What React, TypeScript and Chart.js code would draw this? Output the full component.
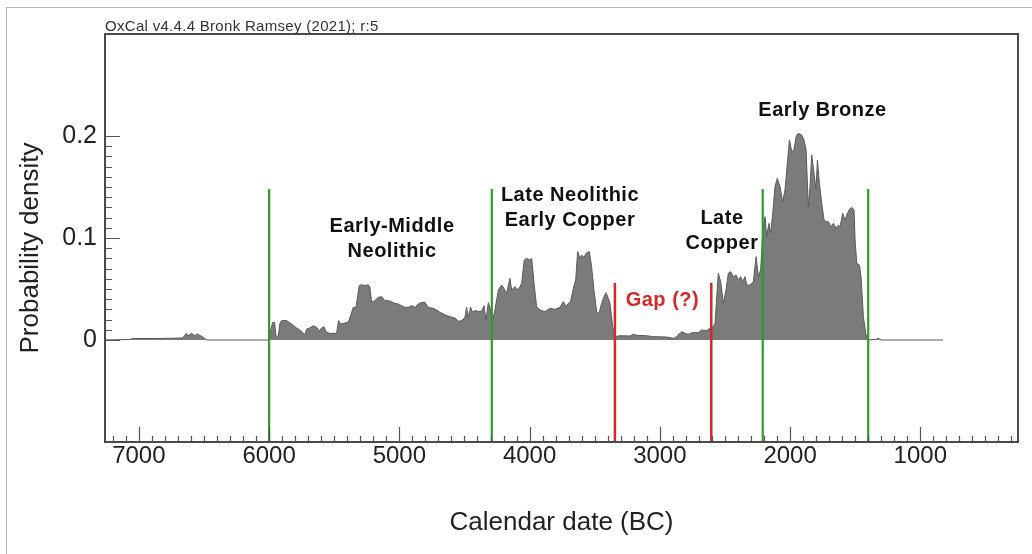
import React, { useEffect, useRef } from 'react';
import { Chart, registerables } from 'chart.js';

Chart.register(...registerables);

const FONT = '"Liberation Sans", Arial, Helvetica, sans-serif';

// Summed probability density (calendar years BC)
const years = [
  7260, 7070, 7046, 6840, 6662, 6647, 6634, 6624, 6595, 6570, 6555, 6516, 6478,
  6002, 5994, 5973, 5958, 5948, 5930, 5917, 5904, 5866, 5828, 5789, 5751, 5725,
  5712, 5687, 5661, 5635, 5615, 5597, 5579, 5559, 5533, 5482, 5467, 5451, 5431,
  5392, 5374, 5354, 5333, 5308, 5290, 5264, 5239, 5226, 5213, 5188, 5162, 5136,
  5111, 5085, 5060, 5034, 5008, 4983, 4957, 4932, 4906, 4880, 4855, 4829, 4804,
  4778, 4752, 4727, 4688, 4650, 4612, 4573, 4548, 4522, 4496, 4484, 4471, 4453,
  4437, 4420, 4394, 4368, 4350, 4335, 4317, 4299, 4284, 4266, 4240, 4215, 4197,
  4176, 4151, 4138, 4112, 4087, 4061, 4041, 4023, 4002, 3984, 3966, 3946, 3920,
  3882, 3844, 3805, 3767, 3741, 3721, 3703, 3685, 3664, 3646, 3631, 3613, 3600,
  3582, 3562, 3541, 3524, 3506, 3485, 3467, 3447, 3429, 3413, 3395, 3383, 3362,
  3344, 3306, 3229, 3204, 3178, 3101, 3050, 2947, 2896, 2871, 2845, 2832, 2807,
  2781, 2743, 2704, 2679, 2640, 2615, 2602, 2576, 2551, 2533, 2512, 2492, 2474,
  2456, 2436, 2415, 2397, 2379, 2364, 2346, 2333, 2308, 2282, 2261, 2243, 2226,
  2210, 2192, 2180, 2162, 2149, 2133, 2116, 2098, 2077, 2057, 2039, 2021, 2005,
  1987, 1970, 1954, 1936, 1911, 1893, 1877, 1860, 1847, 1834, 1816, 1801, 1790,
  1775, 1757, 1739, 1724, 1706, 1685, 1667, 1647, 1629, 1616, 1596, 1578, 1565,
  1547, 1527, 1509, 1501, 1488, 1468, 1455, 1437, 1419, 1404, 1335, 1322, 1309,
  1290, 825,
];

const density = [
  0, 0.0005, 0.0015, 0.0015, 0.002, 0.005, 0.0065, 0.004, 0.0065, 0.004, 0.006, 0.0035, 0,
  0, 0.006, 0.0173, 0.0173, 0.0042, 0.0033, 0.0163, 0.019, 0.019, 0.0157, 0.0118, 0.0085, 0.0052,
  0.0108, 0.0118, 0.014, 0.0124, 0.0085, 0.0118, 0.013, 0.0075, 0.0065, 0.0065, 0.019, 0.0157, 0.0163,
  0.0173, 0.0239, 0.032, 0.032, 0.0533, 0.0542, 0.0533, 0.0542, 0.0516, 0.0369, 0.0386, 0.0418, 0.0425,
  0.0386, 0.0386, 0.0376, 0.0359, 0.0353, 0.0337, 0.032, 0.032, 0.0337, 0.032, 0.0353, 0.0369, 0.0369,
  0.032, 0.0314, 0.0304, 0.0271, 0.0248, 0.0229, 0.0216, 0.0183, 0.019, 0.0222, 0.032, 0.0222, 0.032,
  0.0271, 0.0288, 0.0281, 0.0281, 0.0337, 0.019, 0.0366, 0.0294, 0.0196, 0.0294, 0.049, 0.0539, 0.0507,
  0.0458, 0.0605, 0.049, 0.0523, 0.049, 0.0556, 0.0784, 0.0801, 0.0784, 0.0801, 0.0556, 0.0327, 0.0294,
  0.0278, 0.031, 0.0301, 0.032, 0.0376, 0.0327, 0.0359, 0.0376, 0.0507, 0.0588, 0.0866, 0.0801, 0.0833,
  0.081, 0.0856, 0.0866, 0.0719, 0.049, 0.0278, 0.0261, 0.0359, 0.0425, 0.0464, 0.0408, 0.0359, 0.0131,
  0.0033, 0.0042, 0.0039, 0.0056, 0.0046, 0.0042, 0.0033, 0.0029, 0.0016, 0.0033, 0.0065, 0.0082, 0.0065,
  0.0056, 0.0075, 0.0072, 0.0098, 0.0092, 0.0114, 0.0105, 0.0163, 0.0654, 0.0572, 0.0359, 0.049, 0.0654,
  0.067, 0.0621, 0.0637, 0.0588, 0.0621, 0.0572, 0.0621, 0.0539, 0.0539, 0.0572, 0.0817, 0.0621, 0.0686,
  0.1046, 0.1209, 0.1013, 0.1144, 0.1046, 0.1242, 0.1503, 0.1585, 0.1503, 0.1356, 0.1471, 0.1732, 0.1961,
  0.1846, 0.1863, 0.1993, 0.2026, 0.201, 0.1961, 0.1863, 0.1307, 0.1503, 0.1814, 0.1634, 0.1471, 0.1765,
  0.1536, 0.134, 0.1176, 0.116, 0.116, 0.1111, 0.1144, 0.1095, 0.1127, 0.1111, 0.1242, 0.1176, 0.1225,
  0.1275, 0.1301, 0.1275, 0.098, 0.0752, 0.0735, 0.0621, 0.0229, 0.0065, 0, 0.0007, 0.002, 0.0003,
  0, 0,
];

// Axis ranges and tick labels
const xRange = [250, 7260];
const yRange = [-0.1, 0.3];
const xTickLabels = [7000, 6000, 5000, 4000, 3000, 2000, 1000];
const yTickLabels = [0, 0.1, 0.2];
const xMinorStep = 100;
const yMinorStep = 0.01;

// Phase boundaries (green) and gap limits (red)
const phaseBoundaries = [6000, 4290, 2210, 1400];
const phaseBoundaryTop = 0.148;
const gapLimits = [3345, 2605];
const gapLimitTop = 0.056;

// Period labels: text lines, anchor year, anchor density
const periodNames = [['Early-Middle', 'Neolithic'], ['Late Neolithic', 'Early Copper'], ['Late', 'Copper'], ['Early Bronze'], ['Gap (?)']];
const periodYears = [5056, 3690, 2523, 1751, 2980];
const periodDensity = [0.1108, 0.1412, 0.1192, 0.2255, 0.0383];
const periodIsGap = [false, false, false, false, true];

const header = 'OxCal v4.4.4 Bronk Ramsey (2021); r:5';
const yTitle = 'Probability density';
const xTitle = 'Calendar date (BC)';

const GREEN = '#2f9a30';
const RED = '#d12a2a';

const decorPlugin = {
  id: 'oxcalDecor',
  afterDraw(chart: any) {
    const { ctx, chartArea: a, scales } = chart;
    const xs = scales.x;
    const ys = scales.y;
    ctx.save();

    // inner tick marks
    ctx.strokeStyle = '#555';
    ctx.lineWidth = 1.2;
    ctx.beginPath();
    const xStart = Math.ceil(xRange[0] / xMinorStep) * xMinorStep;
    for (let v = xStart; v <= xRange[1]; v += xMinorStep) {
      const px = Math.round(xs.getPixelForValue(v)) + 0.5;
      const major = xTickLabels.includes(v);
      const len = major ? 15 : 6;
      ctx.moveTo(px, a.bottom);
      ctx.lineTo(px, a.bottom - len);
    }
    const yLo = Math.min(...yTickLabels);
    const yHi = Math.max(...yTickLabels);
    const nMinor = Math.round((yHi - yLo) / yMinorStep);
    for (let i = 0; i <= nMinor; i++) {
      const v = yLo + i * yMinorStep;
      const py = Math.round(ys.getPixelForValue(v)) + 0.5;
      const major = i % 10 === 0;
      const len = major ? 15 : 7;
      ctx.moveTo(a.left, py);
      ctx.lineTo(a.left + len, py);
    }
    ctx.stroke();

    // plot frame
    ctx.strokeStyle = '#4a4a4a';
    ctx.lineWidth = 2;
    ctx.strokeRect(a.left, a.top, a.right - a.left, a.bottom - a.top);

    // header
    ctx.fillStyle = '#333';
    ctx.font = `15px ${FONT}`;
    (ctx as any).letterSpacing = '0.3px';
    ctx.textAlign = 'left';
    ctx.textBaseline = 'alphabetic';
    ctx.fillText(header, a.left, a.top - 3.5);

    // y title
    (ctx as any).letterSpacing = '0px';
    ctx.save();
    ctx.translate(a.left - 74, (a.top + a.bottom) / 2 + 10);
    ctx.rotate(-Math.PI / 2);
    ctx.fillStyle = '#222';
    ctx.font = `26px ${FONT}`;
    ctx.textAlign = 'center';
    ctx.textBaseline = 'middle';
    ctx.fillText(yTitle, 0, 0);
    ctx.restore();

    // period labels
    ctx.font = `bold 20px ${FONT}`;
    (ctx as any).letterSpacing = '0.5px';
    ctx.textAlign = 'center';
    ctx.textBaseline = 'middle';
    periodNames.forEach((lines, i) => {
      const px = xs.getPixelForValue(periodYears[i]);
      const py = ys.getPixelForValue(periodDensity[i]);
      ctx.fillStyle = periodIsGap[i] ? RED : '#111';
      lines.forEach((t, j) => ctx.fillText(t, px, py + j * 25));
    });

    ctx.restore();
  },
};

export default function App() {
  const ref = useRef<HTMLCanvasElement | null>(null);

  useEffect(() => {
    document.body.style.margin = '0';
    const canvas = ref.current;
    if (!canvas) return;

    const vLine = (x: number, top: number, color: string, width: number) => ({
      type: 'line' as const,
      data: [
        { x, y: yRange[0] },
        { x, y: top },
      ],
      borderColor: color,
      borderWidth: width,
      pointRadius: 0,
      fill: false,
      tension: 0,
      order: 1,
    });

    const chart = new Chart(canvas, {
      type: 'line',
      data: {
        datasets: [
          ...phaseBoundaries.map((b) => vLine(b, phaseBoundaryTop, GREEN, 2.2)),
          ...gapLimits.map((b) => vLine(b, gapLimitTop, RED, 2.5)),
          {
            type: 'line',
            label: 'Summed probability',
            data: years.map((yr, i) => ({ x: yr, y: density[i] })),
            borderColor: '#5a5a5a',
            borderWidth: 1,
            backgroundColor: '#7b7b7b',
            fill: 'origin',
            pointRadius: 0,
            tension: 0,
            order: 10,
          },
        ] as any,
      },
      options: {
        responsive: false,
        animation: false,
        devicePixelRatio: 1,
        events: [],
        layout: { padding: { top: 34, right: 14, left: 0, bottom: 0 } },
        plugins: {
          legend: { display: false },
          tooltip: { enabled: false },
          title: { display: false },
        },
        scales: {
          x: {
            type: 'linear',
            reverse: true,
            min: xRange[0],
            max: xRange[1],
            grid: { display: false, drawTicks: false },
            border: { display: false },
            afterBuildTicks: (scale: any) => {
              scale.ticks = xTickLabels.map((v) => ({ value: v }));
            },
            afterFit: (scale: any) => {
              scale.height = 112;
            },
            ticks: {
              autoSkip: false,
              maxRotation: 0,
              padding: 0,
              color: '#222',
              font: { family: FONT, size: 24 },
              callback: (v: any) => String(v),
            },
            title: {
              display: true,
              text: xTitle,
              color: '#222',
              font: { family: FONT, size: 26 },
              padding: { top: 0, bottom: 16 },
            },
          },
          y: {
            type: 'linear',
            min: yRange[0],
            max: yRange[1],
            grid: { display: false, drawTicks: false },
            border: { display: false },
            afterBuildTicks: (scale: any) => {
              scale.ticks = yTickLabels.map((v) => ({ value: v }));
            },
            afterFit: (scale: any) => {
              scale.width = 105;
            },
            ticks: {
              padding: 8,
              color: '#222',
              font: { family: FONT, size: 25 },
              callback: (v: any) => String(v),
            },
          },
        },
      } as any,
      plugins: [decorPlugin],
    });

    return () => chart.destroy();
  }, []);

  return (
    <div
      style={{
        position: 'fixed',
        left: 0,
        top: 0,
        width: 1032,
        height: 554,
        overflow: 'hidden',
        background: '#fff',
      }}
    >
      <canvas ref={ref} width={1032} height={554} style={{ display: 'block', width: 1032, height: 554 }} />
      <div
        style={{
          position: 'absolute',
          left: 6,
          top: 7,
          width: 1100,
          height: 600,
          borderTop: '1.5px solid #b4b4b4',
          borderLeft: '1.5px solid #b4b4b4',
          pointerEvents: 'none',
        }}
      />
    </div>
  );
}
